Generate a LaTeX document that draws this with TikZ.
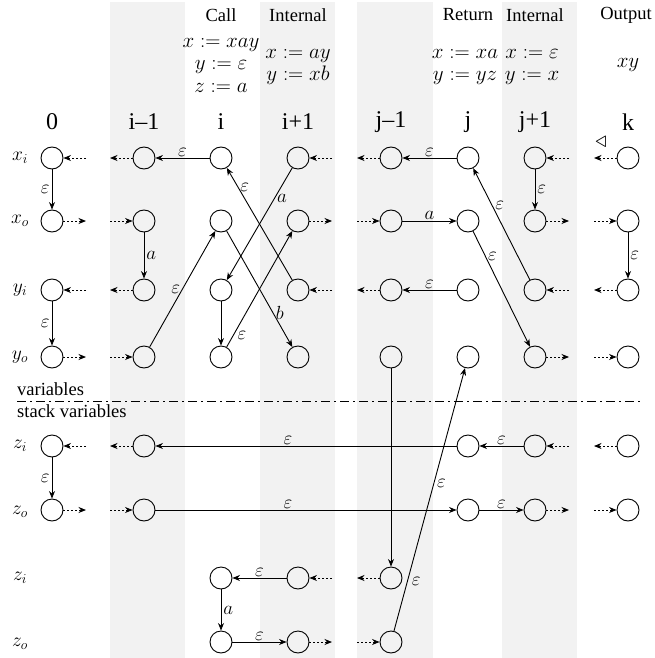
\RequirePackage{fix-cm}
\documentclass[tikz,border=0pt]{standalone}
\usepackage[no-math]{fontspec}
\setmainfont{Liberation Serif}
\usetikzlibrary{arrows.meta}
\definecolor{bandgray}{HTML}{F2F2F2}
\begin{document}
\begin{tikzpicture}[x=1pt,y=-1pt,
  st/.style={circle,draw,line width=0.9pt,minimum size=22pt,inner sep=0pt},
  edge/.style={line width=0.9pt,-{Stealth[length=7.5pt,width=6pt]}},
  stub/.style={line width=0.9pt,dash pattern=on 2pt off 2pt,-{Stealth[length=7.5pt,width=6pt]}},
  lab/.style={font=\fontsize{19}{19}\selectfont,inner sep=2pt},
  rowlab/.style={font=\fontsize{19.5}{19.5}\selectfont,inner sep=0pt},
  colnum/.style={font=\fontsize{24}{24}\selectfont,inner sep=0pt},
  kind/.style={font=\fontsize{18.5}{20}\selectfont,inner sep=0pt},
  assign/.style={font=\fontsize{21}{22.5}\selectfont,inner sep=0pt,align=center},
  band/.style={fill=bandgray,draw=none}
]
\useasboundingbox (0,0) rectangle (654,658);
% bands
\fill[band] (110,2) rectangle (185,658);
\fill[band] (260,2) rectangle (335,658);
\fill[band] (357,2) rectangle (433,658);
\fill[band] (502,2) rectangle (577,658);

% headers
\node[kind] (hcall) at (221,15) {Call};
\node[kind] (hint1) at (298,15) {Internal};
\node[kind] (hret) at (468,15) {Return};
\node[kind] (hint2) at (535,15) {Internal};
\node[kind] (hout) at (626,15) {Output};
\node[assign] (acall) at (221,65) {$x := xay$\\$y := \varepsilon$\\$z := a$};
\node[assign] (aint1) at (298,67) {$x := ay$\\$y := xb$};
\node[assign] (aret) at (465,67) {$x := xa$\\$y := yz$};
\node[assign] (aint2) at (532,67) {$x := \varepsilon$\\$y := x$};
\node[assign] (aout) at (628,65) {$xy$};

\node[colnum] (n0) at (52,122) {0};
\node[colnum] (n1) at (144,122) {i--1};
\node[colnum] (n2) at (221,122) {i};
\node[colnum] (n3) at (298,122) {i+1};
\node[colnum] (n4) at (391,122) {j--1};
\node[colnum] (n5) at (468,122) {j};
\node[colnum] (n6) at (535,122) {j+1};
\node[colnum] (n7) at (628,122) {k};

% row labels
\node[rowlab] (lxi) at (20,158) {$x_i$};
\node[rowlab] (lxo) at (20,221) {$x_o$};
\node[rowlab] (lyi) at (20,290) {$y_i$};
\node[rowlab] (lyo) at (20,357) {$y_o$};
\node[rowlab] (lzi) at (20,446) {$z_i$};
\node[rowlab] (lzo) at (20,512) {$z_o$};
\node[rowlab] (lzi2) at (20,578) {$z_i$};
\node[rowlab] (lzo2) at (20,644) {$z_o$};

% separator
\node[kind,anchor=base west] (tvar) at (17,395) {variables};
\node[kind,anchor=base west] (tstack) at (17,417) {stack variables};
\coordinate (sepL) at (17,401);
\coordinate (sepR) at (641,401);
\draw[line width=0.9pt,dash pattern=on 9pt off 4pt on 2pt off 4pt] (sepL) -- (sepR);

% states
\foreach \ri/\py in {1/158,2/221,3/290,4/357,5/446,6/510}{
  \node[st] (c0r\ri) at (52,\py) {};
  \node[st] (c1r\ri) at (144,\py) {};
  \node[st] (c5r\ri) at (468,\py) {};
  \node[st] (c6r\ri) at (535,\py) {};
  \node[st] (c7r\ri) at (628,\py) {};
}
\foreach \ri/\py in {1/158,2/221,3/290,4/357,7/578,8/642}{
  \node[st] (c2r\ri) at (221,\py) {};
  \node[st] (c3r\ri) at (298,\py) {};
  \node[st] (c4r\ri) at (391,\py) {};
}

% dotted stubs: right side, input rows (into state)
\foreach \ci/\ri/\px/\py in {0/1/52/158,0/3/52/290,0/5/52/446,3/1/298/158,3/3/298/290,3/7/298/578,6/1/535/158,6/3/535/290,6/5/535/446}{
  \coordinate (s\ci-\ri) at (\px+34,\py);
  \draw[stub] (s\ci-\ri) -- (c\ci r\ri);
}
% right side, output rows (out of state)
\foreach \ci/\ri/\px/\py in {0/2/52/221,0/4/52/357,0/6/52/510,3/2/298/221,3/8/298/642,6/2/535/221,6/4/535/357,6/6/535/510}{
  \coordinate (s\ci-\ri) at (\px+34,\py);
  \draw[stub] (c\ci r\ri) -- (s\ci-\ri);
}
% left side, input rows (out of state, leftwards)
\foreach \ci/\ri/\px/\py in {1/1/144/158,1/3/144/290,1/5/144/446,4/1/391/158,4/3/391/290,4/7/391/578,7/1/628/158,7/3/628/290,7/5/628/446}{
  \coordinate (s\ci-\ri) at (\px-34,\py);
  \draw[stub] (c\ci r\ri) -- (s\ci-\ri);
}
% left side, output rows (into state)
\foreach \ci/\ri/\px/\py in {1/2/144/221,1/4/144/357,1/6/144/510,4/2/391/221,4/8/391/642,7/2/628/221,7/4/628/357,7/6/628/510}{
  \coordinate (s\ci-\ri) at (\px-34,\py);
  \draw[stub] (s\ci-\ri) -- (c\ci r\ri);
}

\node[font=\fontsize{23}{23}\selectfont,inner sep=0pt] (tri) at (601,142) {$\triangleleft$};

% edges column 0
\draw[edge] (c0r1) -- node[lab,left] {$\varepsilon$} (c0r2);
\draw[edge] (c0r3) -- node[lab,left] {$\varepsilon$} (c0r4);
\draw[edge] (c0r5) -- node[lab,left] {$\varepsilon$} (c0r6);
% column i-1 / i / i+1
\draw[edge] (c1r2) -- node[lab,right] {$a$} (c1r3);
\draw[edge] (c2r1) -- node[lab,above,inner sep=1pt] {$\varepsilon$} (c1r1);
\draw[edge] (c1r4) -- node[lab,left,pos=0.5] {$\varepsilon$} (c2r2);
\draw[edge] (c2r2) -- node[lab,right,pos=0.71] {$b$} (c3r4);
\draw[edge] (c2r3) -- (c2r4);
\draw[edge] (c2r4) -- node[lab,right,pos=0.1,xshift=2pt] {$\varepsilon$} (c3r2);
\draw[edge] (c3r1) -- node[lab,right,pos=0.27] {$a$} (c2r3);
\draw[edge] (c3r3) -- node[lab,right,pos=0.83] {$\varepsilon$} (c2r1);
% columns j-1 / j / j+1 / k
\draw[edge] (c5r1) -- node[lab,above,inner sep=1pt] {$\varepsilon$} (c4r1);
\draw[edge] (c4r2) -- node[lab,above,inner sep=1pt] {$a$} (c5r2);
\draw[edge] (c5r3) -- node[lab,above,inner sep=1pt] {$\varepsilon$} (c4r3);
\draw[edge] (c5r2) -- node[lab,right,pos=0.22] {$\varepsilon$} (c6r4);
\draw[edge] (c6r3) -- node[lab,right,pos=0.67,xshift=1pt] {$\varepsilon$} (c5r1);
\draw[edge] (c6r1) -- node[lab,right] {$\varepsilon$} (c6r2);
\draw[edge] (c7r2) -- node[lab,right] {$\varepsilon$} (c7r3);
% stack
\draw[edge] (c4r4) -- (c4r7);
\draw[edge] (c4r8) -- node[lab,right,pos=0.19,xshift=2pt] {$\varepsilon$} node[lab,right,pos=0.56,xshift=1pt] {$\varepsilon$} (c5r4);
\draw[edge] (c5r5) -- node[lab,above,inner sep=1pt,pos=0.56] {$\varepsilon$} (c1r5);
\draw[edge] (c1r6) -- node[lab,above,inner sep=1pt,pos=0.44] {$\varepsilon$} (c5r6);
\draw[edge] (c6r5) -- node[lab,above,inner sep=1pt] {$\varepsilon$} (c5r5);
\draw[edge] (c5r6) -- node[lab,above,inner sep=1pt] {$\varepsilon$} (c6r6);
\draw[edge] (c3r7) -- node[lab,above,inner sep=1pt] {$\varepsilon$} (c2r7);
\draw[edge] (c2r7) -- node[lab,right] {$a$} (c2r8);
\draw[edge] (c2r8) -- node[lab,above,inner sep=1pt] {$\varepsilon$} (c3r8);
\end{tikzpicture}
\end{document}
